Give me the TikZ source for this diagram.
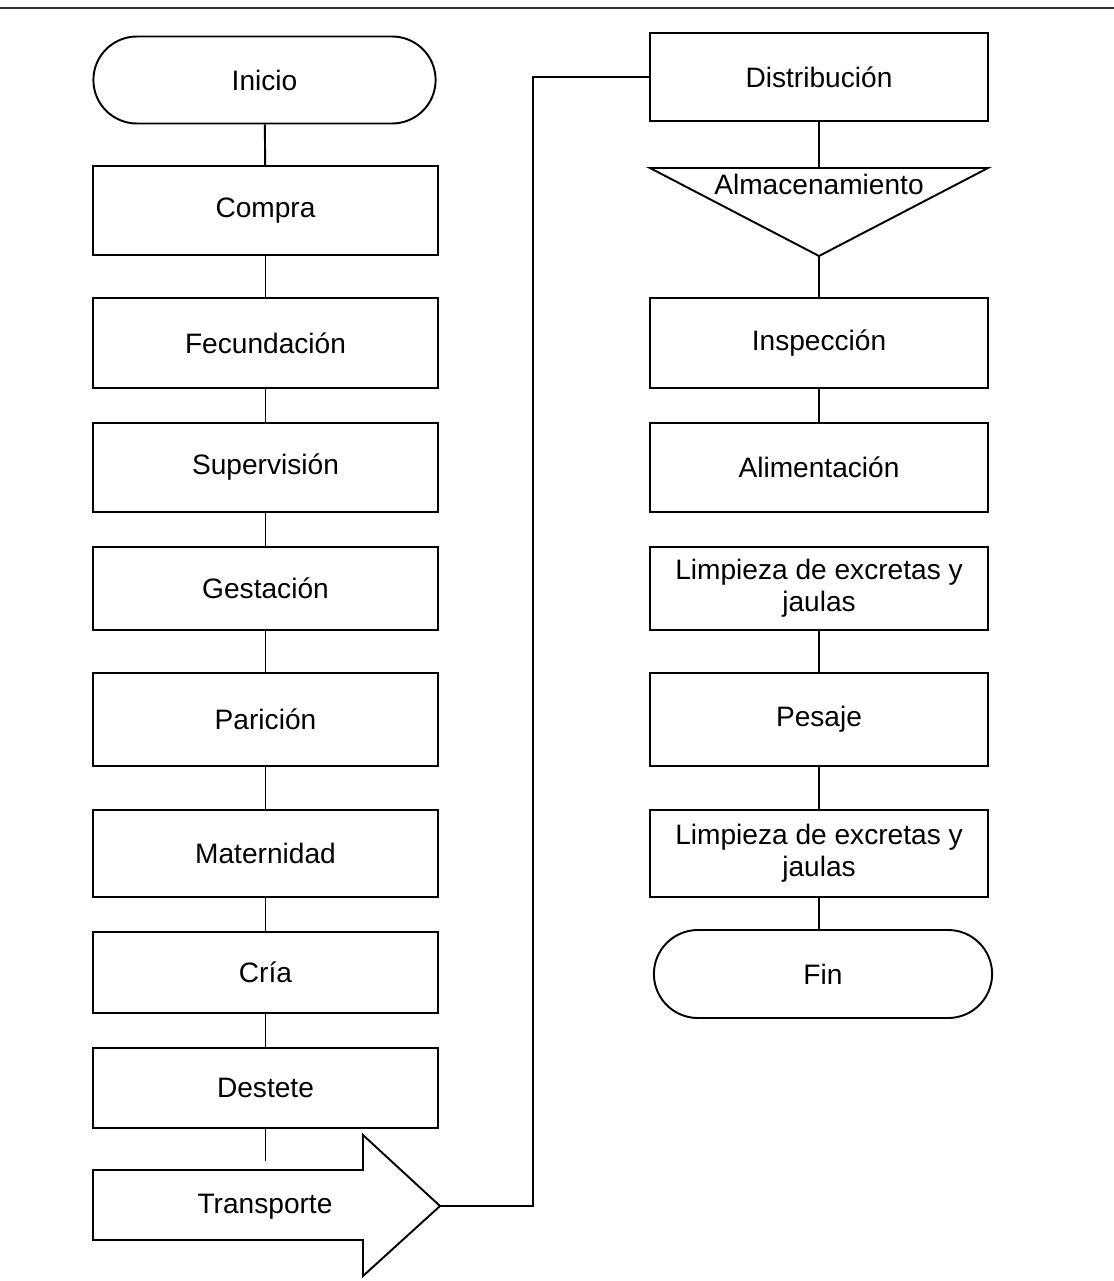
\documentclass[tikz,border=0pt]{standalone}
\usepackage{fontspec}
\setmainfont{Liberation Sans}
\usepackage{tikz}
\usetikzlibrary{shapes.misc}
\tikzstyle{pcell} = [rectangle, draw, line width=1.1pt, text centered, align=center, inner sep=2pt]
\tikzstyle{lcell} = [pcell, minimum width=6.9cm]
\tikzstyle{rcell} = [pcell, minimum width=6.76cm]
\tikzstyle{tcell} = [rounded rectangle, draw, line width=1.1pt, text centered, minimum height=1.74cm]
\tikzstyle{line} = [draw, line width=1.1pt]

\begin{document}
\begin{tikzpicture}[x=0.02cm, y=-0.02cm, font=\fontsize{16}{18.2}\selectfont]
    \useasboundingbox (0,0) rectangle (1114,1281);
    \draw[line width=1.7pt, black!80] (0,8) -- (1114,8);

    % left column
    \node[tcell, minimum width=7.08cm] (inicio) at (264.5,80) {Inicio};
    \node[lcell, minimum height=1.78cm] (compra) at (265.5,210.5) {Compra};
    \node[lcell, minimum height=1.8cm] (fecund) at (265.5,343) {Fecundación};
    \node[lcell, minimum height=1.78cm] (superv) at (265.5,467.5) {Supervisión};
    \node[lcell, minimum height=1.66cm] (gestac) at (265.5,588.5) {Gestación};
    \node[lcell, minimum height=1.86cm] (paricion) at (265.5,719.5) {Parición};
    \node[lcell, minimum height=1.74cm] (matern) at (265.5,853.5) {Maternidad};
    \node[lcell, minimum height=1.62cm] (cria) at (265.5,972.5) {Cría};
    \node[lcell, minimum height=1.6cm] (destete) at (265.5,1088) {Destete};
    \coordinate (destfin) at (265.5,1161);

    % transporte arrow
    \draw[line width=1.1pt, line join=miter] (93,1170) -- (363,1170) -- (363,1135) -- (440,1206)
        -- (363,1276) -- (363,1240) -- (93,1240) -- cycle;
    \node (transp) at (265,1207) {Transporte};
    \coordinate (tip) at (440,1206);

    % right column
    \node[rcell, minimum height=1.76cm] (distrib) at (819,77) {Distribución};
    \coordinate (almL) at (650,168);
    \coordinate (almR) at (988,168);
    \coordinate (almtop) at (819,168);
    \coordinate (almtip) at (819,256);
    \draw[line width=1.1pt, line join=miter] (almL) -- (almR) -- (almtip) -- cycle;
    \node (almac) at (819,184) {Almacenamiento};
    \node[rcell, minimum height=1.8cm] (inspec) at (819,343) {Inspección};
    \node[rcell, minimum height=1.78cm] (alim) at (819,467.5) {Alimentación};
    \node[rcell, minimum height=1.66cm] (limp1) at (819,588.5) {Limpieza de excretas y\\jaulas};
    \node[rcell, minimum height=1.86cm] (pesaje) at (819,719.5) {Pesaje};
    \node[rcell, minimum height=1.74cm] (limp2) at (819,853.5) {Limpieza de excretas y\\jaulas};
    \node[tcell, minimum width=7.0cm, minimum height=1.76cm] (fin) at (823,974) {Fin};

    \path[line] (inicio) -- (compra);
    \path[line] (compra) -- (fecund);
    \path[line] (fecund) -- (superv);
    \path[line] (superv) -- (gestac);
    \path[line] (gestac) -- (paricion);
    \path[line] (paricion) -- (matern);
    \path[line] (matern) -- (cria);
    \path[line] (cria) -- (destete);
    \path[line] (destete) -- (destfin);
    \path[line] (tip) -- (533,1206) |- (distrib.west);
    \path[line] (distrib) -- (almtop);
    \path[line] (almtip) -- (inspec);
    \path[line] (inspec) -- (alim);
    \path[line] (limp1) -- (pesaje);
    \path[line] (pesaje) -- (limp2);
    \path[line] (limp2.south) -- (limp2.south |- fin.north);
\end{tikzpicture}
\end{document}
